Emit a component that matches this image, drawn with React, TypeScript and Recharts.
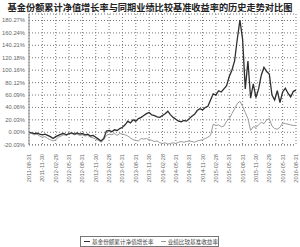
import { LineChart, Line, XAxis, YAxis, CartesianGrid } from "recharts";

const dateLabels = [
  "2011-08-31", "2011-11-30", "2012-02-29", "2012-05-31", "2012-08-31",
  "2012-11-30", "2013-02-28", "2013-05-31", "2013-08-31", "2013-11-30",
  "2014-02-28", "2014-05-31", "2014-08-31", "2014-11-30", "2015-02-28",
  "2015-05-31", "2015-08-31", "2015-11-30", "2016-02-29", "2016-05-31",
  "2016-08-31",
];

const fundGrowth = [
  0, -1, -2, -1.5, -3, -4, -3, -5, -7, -10,
  -7, -5, -3, -2, -4, -2, -1, -3, -1, -3,
  -2, -4, -3, -6, -5, -8, -11, -14, -10, 2,
  3, 1, 4, 3, 6, 8, 12, 18, 15, 20,
  18, 22, 24, 27, 30, 32, 28, 27, 25, 24,
  27, 30, 34, 28, 24, 21, 18, 17, 19, 18,
  22, 26, 29, 35, 38, 36, 40, 42, 52, 62,
  60, 67, 65, 70, 75, 90, 100, 115, 150, 181,
  150, 70, 115, 55, 78, 56, 70, 92, 105, 98,
  94, 60, 52, 67, 48, 65, 71, 63, 57, 66, 68,
];

const benchmark = [
  0, -2, -4, -3, -6, -8, -7, -10, -12, -14,
  -12, -8, -6, -4, -5, -3, -2, -4, -3, -5,
  -4, -6, -5, -8, -9, -11, -13, -16, -12, -5,
  -3, -4, -2, -5, -2, -3, -4, -6, -9, -12,
  -13, -14, -10, -11, -10, -12, -13, -15, -14, -17,
  -18, -17, -19, -18, -17, -18, -16, -15, -16, -15,
  -14, -15, -16, -14, -13, -12, -10, -8, -5, 13,
  11, 12, 9, 10, 18, 22, 30, 38, 46, 50,
  42, 32, 22, 3, 9, 8, 12, 16, 14, 20,
  22, 10, 6, 5, 8, 15, 14, 13, 12, 11, 11,
];

const yTicks = [-20.03, 0, 20.03, 40.06, 60.09, 80.12, 100.16, 120.18, 140.21, 160.24, 180.27];

const data = fundGrowth.map((v, i) => ({
  idx: i,
  fund: v,
  bench: benchmark[i],
}));

const xTicks = dateLabels.map((_, i) => i * 5);

const FUND_COLOR = "#2e2e2e";
const BENCH_COLOR = "#9a9a9a";
const TICK_FONT = "'Liberation Sans', Arial, sans-serif";
const Y_AXIS_WIDTH = 29;

const XTick = (props: any) => {
  const { x, y, payload } = props;
  const label = dateLabels[payload.value / 5] ?? "";
  return (
    <text
      x={x}
      y={y}
      transform={`rotate(-90, ${x}, ${y})`}
      textAnchor="end"
      dominantBaseline="central"
      fontSize={5.6}
      fontFamily={TICK_FONT}
      fill="#666"
    >
      {label}
    </text>
  );
};

// label right edge sits 4px left of the axis line
const YTick = (props: any) => {
  const { y, payload } = props;
  return (
    <text
      x={Y_AXIS_WIDTH - 4}
      y={y}
      textAnchor="end"
      dominantBaseline="central"
      fontSize={5.8}
      fontFamily={TICK_FONT}
      fill="#666"
    >
      {`${payload.value.toFixed(2)}%`}
    </text>
  );
};

const App = () => {
  return (
    <div
      style={{
        position: "absolute",
        left: 0,
        top: 0,
        width: 300,
        height: 247,
        background: "#fff",
        fontFamily: "'Noto Sans CJK SC', 'Noto Sans', sans-serif",
      }}
    >
      <div
        style={{
          position: "absolute",
          top: 1,
          left: 0,
          width: 300,
          textAlign: "center",
          fontSize: 9.2,
          fontWeight: 700,
          color: "#222",
          whiteSpace: "nowrap",
          lineHeight: "12px",
        }}
      >
        基金份额累计净值增长率与同期业绩比较基准收益率的历史走势对比图
      </div>
      <LineChart
        width={300}
        height={247}
        data={data}
        margin={{ top: 14, right: 4, bottom: 51, left: 0 }}
      >
        <CartesianGrid stroke="#777" strokeDasharray="1 2" ticks={yTicks} />
        <XAxis
          dataKey="idx"
          type="number"
          domain={[0, 100]}
          ticks={xTicks}
          interval={0}
          tick={<XTick />}
          tickLine={false}
          axisLine={false}
          tickMargin={3}
          height={51}
        />
        <YAxis
          type="number"
          domain={[-20.5, 190.75]}
          ticks={yTicks}
          interval={0}
          width={Y_AXIS_WIDTH}
          tickLine={false}
          axisLine={{ stroke: "#888" }}
          tick={<YTick />}
        />
        <Line
          type="linear"
          dataKey="bench"
          stroke={BENCH_COLOR}
          strokeWidth={1}
          dot={false}
          isAnimationActive={false}
        />
        <Line
          type="linear"
          dataKey="fund"
          stroke={FUND_COLOR}
          strokeWidth={1.3}
          dot={false}
          isAnimationActive={false}
        />
      </LineChart>
      <div
        style={{
          position: "absolute",
          left: 80,
          top: 236,
          width: 137,
          height: 9,
          border: "1px solid #777",
          display: "flex",
          alignItems: "center",
          fontSize: 5.6,
          color: "#444",
          whiteSpace: "nowrap",
        }}
      >
        <span style={{ display: "inline-block", width: 7, height: 1, background: FUND_COLOR, marginLeft: 3, marginRight: 2 }} />
        <span>基金份额累计净值增长率</span>
        <span style={{ display: "inline-block", width: 6, height: 1, background: BENCH_COLOR, marginLeft: 7, marginRight: 2 }} />
        <span>业绩比较基准收益率</span>
      </div>
    </div>
  );
};

export default App;
